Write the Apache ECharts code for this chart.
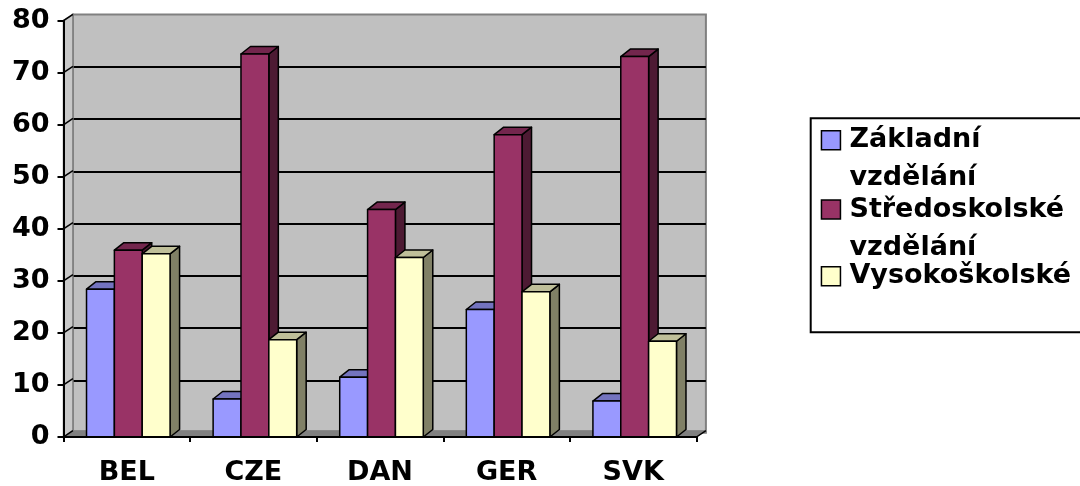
<!DOCTYPE html>
<html>
<head>
<meta charset="utf-8">
<script src="https://cdn.jsdelivr.net/npm/echarts@6/dist/echarts.min.js"></script>
<style>
html,body{margin:0;padding:0;background:#fff;}
#chart{width:1080px;height:486px;}
</style>
</head>
<body>
<div id="chart"></div>
<script>
// ---- data ----
var categories = ['BEL', 'CZE', 'DAN', 'GER', 'SVK'];
var seriesNames = ['Základní vzdělání', 'Středoskolské vzdělání', 'Vysokoškolské'];
var zakladni = [28.4, 7.3, 11.5, 24.5, 6.9];
var stredoskolske = [35.9, 73.6, 43.7, 58.1, 73.1];
var vysokoskolske = [35.2, 18.7, 34.5, 27.9, 18.4];
var yTicks = [0, 10, 20, 30, 40, 50, 60, 70, 80];

// ---- style ----
var FONT = 'DejaVu Sans';
var colors = ['#9999FF', '#993366', '#FFFFCC'];
var topColors = ['#7373BF', '#73264D', '#BFBF99'];
var sideColors = ['#4D4D80', '#4D1A33', '#808066'];
var BAR_DX = 9.5, BAR_DY = 7.5;   // bar depth
var WALL_DX = 9.4, WALL_DY = 6.3; // wall depth

var valueSets = [zakladni, stredoskolske, vysokoskolske];

function barRenderer(si) {
  return function (params, api) {
    var ci = api.value(0), v = api.value(1);
    var p0 = api.coord([ci, 0]);
    var p1 = api.coord([ci, v]);
    var band = api.size([1, 0])[0];
    var bw = band * 0.22;
    var x0 = p0[0] - 1.5 * bw + 1.5 + si * bw;
    var x1 = x0 + bw;
    var yb = p0[1], yt = p1[1];
    var st = { stroke: '#000', lineWidth: 1.5, lineJoin: 'round' };
    return {
      type: 'group',
      children: [
        { type: 'polygon', z2: si * 10 + 1,
          shape: { points: [[x1, yb], [x1 + BAR_DX, yb - BAR_DY], [x1 + BAR_DX, yt - BAR_DY], [x1, yt]] },
          style: Object.assign({ fill: sideColors[si] }, st) },
        { type: 'polygon', z2: si * 10 + 2,
          shape: { points: [[x0, yt], [x0 + BAR_DX, yt - BAR_DY], [x1 + BAR_DX, yt - BAR_DY], [x1, yt]] },
          style: Object.assign({ fill: topColors[si] }, st) },
        { type: 'rect', z2: si * 10 + 3,
          shape: { x: x0, y: yt, width: bw, height: yb - yt },
          style: Object.assign({ fill: colors[si] }, st) }
      ]
    };
  };
}

function wallRenderer(params, api) {
  var band = api.size([1, 0])[0];
  var c0 = api.coord([0, 0]);
  var cN = api.coord([categories.length - 1, 0]);
  var xl = c0[0] - band / 2, xr = cN[0] + band / 2, yb = c0[1];
  var ytop = api.coord([0, yTicks[yTicks.length - 1]])[1];
  var children = [
    { type: 'polygon',
      shape: { points: [[xl, yb], [xl + WALL_DX, yb - WALL_DY], [xl + WALL_DX, ytop - WALL_DY], [xl, ytop]] },
      style: { fill: '#C8C8C8', stroke: '#808080', lineWidth: 1.5 } },
    { type: 'polygon',
      shape: { points: [[xl, yb], [xr, yb], [xr + WALL_DX, yb - WALL_DY], [xl + WALL_DX, yb - WALL_DY]] },
      style: { fill: '#808080', stroke: '#808080', lineWidth: 1 } }
  ];
  yTicks.forEach(function (t) {
    var y = api.coord([0, t])[1];
    children.push({ type: 'line',
      shape: { x1: xl, y1: y, x2: xl + WALL_DX, y2: y - WALL_DY },
      style: { stroke: '#000', lineWidth: 1.5 } });
  });
  children.push({ type: 'line',
    shape: { x1: xr, y1: yb, x2: xr + WALL_DX, y2: yb - WALL_DY },
    style: { stroke: '#000', lineWidth: 1.5 } });
  return { type: 'group', children: children };
}

var series = [{
  type: 'custom', name: '_walls', xAxisIndex: 1, yAxisIndex: 1, z: 1,
  clip: false, silent: true, data: [[0, 0]], renderItem: wallRenderer,
  encode: { x: 0, y: 1 }
}];
valueSets.forEach(function (vals, si) {
  series.push({
    type: 'custom', name: seriesNames[si], xAxisIndex: 1, yAxisIndex: 1, z: 2 + si,
    clip: false,
    itemStyle: { color: colors[si], borderColor: '#000', borderWidth: 1.5 },
    data: vals.map(function (v, i) { return [i, v]; }),
    encode: { x: 0, y: 1 },
    renderItem: barRenderer(si)
  });
});

// icon tops in the reference: 130.7, 200, 266.7 (icon 19px)
var legendTops = [83.2, 152.5, 257.2];
var legends = seriesNames.map(function (n, i) {
  return {
    data: [n], left: 820.7, top: legendTops[i], orient: 'vertical', padding: 0,
    icon: 'rect', itemWidth: 19, itemHeight: 19, selectedMode: false,
    itemStyle: { borderColor: '#000', borderWidth: 1.5 },
    formatter: function (name) {
      // first line aligned with the icon: leading empty line for wrapped names
      return name.indexOf(' ') > 0 ? '\n' + name.replace(' ', '\n') : name;
    },
    textStyle: { fontFamily: FONT, fontWeight: 'bold', fontSize: 27, color: '#000',
      lineHeight: 38, padding: [0, 0, 0, 4] }
  };
});

var chart = echarts.init(document.getElementById('chart'), null, { renderer: 'canvas' });
chart.setOption({
  animation: false,
  backgroundColor: '#fff',
  textStyle: { fontFamily: FONT },
  graphic: [{ type: 'rect', z: -1, shape: { x: 810.7, y: 118.3, width: 320, height: 214 },
    style: { fill: '#fff', stroke: '#000', lineWidth: 2 } }],
  legend: legends,
  grid: [
    { left: 72.9, top: 14.4, width: 633, height: 418.3, show: true,
      backgroundColor: '#C0C0C0', borderColor: '#808080', borderWidth: 2 },
    { left: 63.5, top: 20.7, width: 633, height: 418.3 }
  ],
  xAxis: [
    { gridIndex: 0, type: 'category', data: categories, show: false },
    { gridIndex: 1, type: 'category', data: categories, z: 10,
      axisLine: { show: true, lineStyle: { color: '#000', width: 2 } },
      axisTick: { show: true, interval: 0, length: 5, lineStyle: { color: '#000', width: 2 } },
      axisLabel: { interval: 0, margin: 22, color: '#000', fontFamily: FONT, fontWeight: 'bold', fontSize: 27 },
      splitLine: { show: false } }
  ],
  yAxis: [
    { gridIndex: 0, type: 'value', min: 0, max: 80, interval: 10,
      axisLine: { show: false }, axisTick: { show: false }, axisLabel: { show: false },
      splitLine: { show: true, showMinLine: false, showMaxLine: false, lineStyle: { color: '#000', width: 2 } } },
    { gridIndex: 1, type: 'value', min: 0, max: 80, interval: 10, z: 10,
      axisLine: { show: true, lineStyle: { color: '#000', width: 2 } },
      axisTick: { show: true, length: 6, lineStyle: { color: '#000', width: 2 } },
      axisLabel: { margin: 14, color: '#000', fontFamily: FONT, fontWeight: 'bold', fontSize: 27 },
      splitLine: { show: false } }
  ],
  series: series
});
</script>
</body>
</html>
